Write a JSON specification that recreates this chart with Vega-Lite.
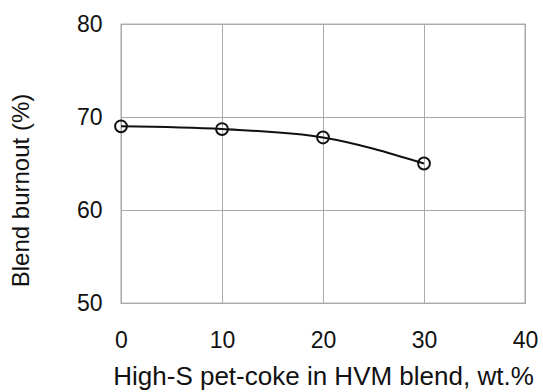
{
  "$schema": "https://vega.github.io/schema/vega-lite/v6.json",
  "autosize": {"type": "none"},
  "padding": {"left": 121, "top": 24, "right": 18, "bottom": 89},
  "width": 404,
  "height": 279,
  "background": "white",
  "config": {
    "view": {"stroke": "#6a6a6a", "strokeWidth": 1.2},
    "font": "Liberation Sans",
    "axis": {
      "labelFont": "Liberation Sans",
      "titleFont": "Liberation Sans",
      "labelFontSize": 23,
      "titleFontSize": 24,
      "labelColor": "#111",
      "titleColor": "#111",
      "titleFontWeight": "normal",
      "gridColor": "#aaaaaa",
      "gridWidth": 1,
      "gridOpacity": 1,
      "ticks": false,
      "domain": false,
      "labelFlush": false
    }
  },
  "data": {
    "values": [
      {"x": 0, "y": 69.0},
      {"x": 10, "y": 68.7},
      {"x": 20, "y": 67.8},
      {"x": 30, "y": 65.0}
    ]
  },
  "encoding": {
    "x": {
      "field": "x",
      "type": "quantitative",
      "scale": {"domain": [0, 40], "nice": false},
      "axis": {
        "values": [0, 10, 20, 30, 40],
        "title": "High-S pet-coke in HVM blend, wt.%",
        "titleFontSize": 26,
        "labelPadding": 26,
        "titlePadding": 11
      }
    },
    "y": {
      "field": "y",
      "type": "quantitative",
      "scale": {"domain": [50, 80], "nice": false, "zero": false},
      "axis": {
        "values": [50, 60, 70, 80],
        "title": "Blend burnout (%)",
        "labelPadding": 19,
        "titleX": -88,
        "titleY": 166,
        "titleAlign": "center"
      }
    }
  },
  "layer": [
    {
      "mark": {"type": "line", "interpolate": "monotone", "color": "#111", "strokeWidth": 2}
    },
    {
      "mark": {"type": "point", "shape": "circle", "filled": false, "size": 140, "color": "#111", "strokeWidth": 2, "opacity": 1}
    }
  ]
}
